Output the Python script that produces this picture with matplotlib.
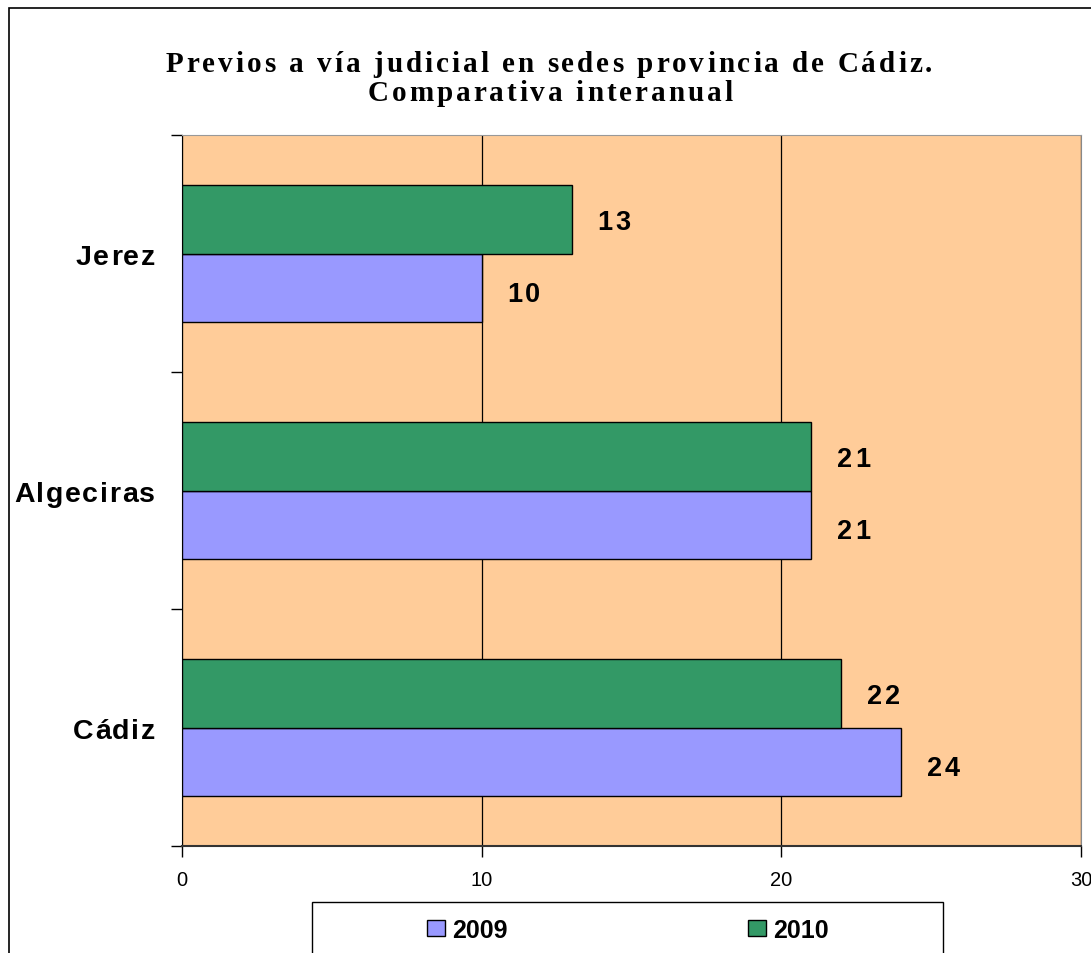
import numpy as np
from matplotlib import pyplot as plt
from matplotlib.patches import Rectangle

# data
categories = ['Cádiz', 'Algeciras', 'Jerez']
values_2009 = [24, 21, 10]
values_2010 = [22, 21, 13]
series_names = ['2009', '2010']
x_ticks = [0, 10, 20, 30]
title_lines = ['Previos a vía judicial en sedes provincia de Cádiz.', 'Comparativa interanual']

COLOR_2009 = '#9999FF'
COLOR_2010 = '#339966'
PLOT_BG = '#FFCC99'

W, H = 1091, 954
fig = plt.figure(figsize=(W / 100, H / 100), dpi=100)
renderer = fig.canvas.get_renderer()


def text_width(s, **kw):
    t = fig.text(0, 0, s, **kw)
    w = t.get_window_extent(renderer).width
    t.remove()
    return w


def tracked_text(x, y, s, spacing, ha='left', **kw):
    # x, y in display pixels (origin bottom left), y is the baseline
    base = text_width('xx', **kw)
    adv = [text_width('x' + c + 'x', **kw) - base for c in s]
    total = sum(adv) + spacing * (len(s) - 1)
    x0 = {'left': x, 'center': x - total / 2, 'right': x - total}[ha]
    for c, a in zip(s, adv):
        fig.text(x0 / W, y / H, c, ha='left', va='baseline', **kw)
        x0 += a + spacing


# outer chart frame (cut off at right and bottom)
fig.patches.append(Rectangle((9 / W, -0.1), 1.2, 1 - 9 / H + 0.1, transform=fig.transFigure,
                             facecolor='none', edgecolor='black', linewidth=1.2))

ax = fig.add_axes([182 / W, 1 - 847 / H, (1081 - 182) / W, (847 - 136) / H])
ax.set_facecolor(PLOT_BG)

y = np.arange(len(categories))
h = 0.287
ax.barh(y - h / 2, values_2009, height=h, color=COLOR_2009, edgecolor='black', linewidth=1, label=series_names[0], zorder=3)
ax.barh(y + h / 2, values_2010, height=h, color=COLOR_2010, edgecolor='black', linewidth=1, label=series_names[1], zorder=3)

ax.set_xlim(0, 30)
ax.set_ylim(-0.5, 2.5)
ax.set_xticks(x_ticks)
ax.set_xticklabels([str(t) for t in x_ticks], fontsize=14.5, family='Liberation Sans')
ax.xaxis.grid(True, color='black', linewidth=0.9, zorder=1)
ax.set_axisbelow(True)
ax.tick_params(axis='x', direction='out', length=8, width=1, pad=9)

ax.set_yticks(y)
ax.set_yticklabels([''] * len(categories))
ax.set_yticks(np.arange(-0.5, len(categories), 1), minor=True)
ax.tick_params(axis='y', which='major', length=0)
ax.tick_params(axis='y', which='minor', direction='out', length=8, width=1)

ax.spines['top'].set_color('#999999')
ax.spines['right'].set_color('#888888')
ax.spines['left'].set_color('black')
ax.spines['bottom'].set_color('#333333')
ax.spines['bottom'].set_linewidth(1.5)

bold_sans = dict(fontsize=20.5, fontweight='bold', family='Liberation Sans')
# category labels
for yy, name in zip(y, categories):
    _, py = ax.transData.transform((0, yy))
    tracked_text(155, py - 10.5, name, 1.6, ha='right', **bold_sans)

# value labels
val_font = dict(fontsize=19.5, fontweight='bold', family='Liberation Sans')
for yy, v in zip(y, values_2009):
    px, py = ax.transData.transform((v, yy - h / 2))
    tracked_text(px + 26, py - 13, str(v), 2.5, **val_font)
for yy, v in zip(y, values_2010):
    px, py = ax.transData.transform((v, yy + h / 2))
    tracked_text(px + 26, py - 10, str(v), 2.5, **val_font)

# title
title_font = dict(fontsize=21, fontweight='bold', family='Liberation Serif')
tracked_text(549, H - 72, title_lines[0], 3.0, ha='center', **title_font)
tracked_text(550, H - 101, title_lines[1], 3.0, ha='center', **title_font)

# legend box
fig.patches.append(Rectangle((312 / W, -0.1), (943 - 312) / W, 1 - 903 / H + 0.1, transform=fig.transFigure,
                             facecolor='white', edgecolor='black', linewidth=1))
leg = fig.legend(loc='center', bbox_to_anchor=(628 / W, 1 - 931 / H), ncol=2, frameon=False,
                 prop={'family': 'Liberation Sans', 'weight': 'bold', 'size': 18},
                 handlelength=0.72, handleheight=0.64, handletextpad=0.3, columnspacing=9.6)

fig.savefig('out.png', dpi=100)
